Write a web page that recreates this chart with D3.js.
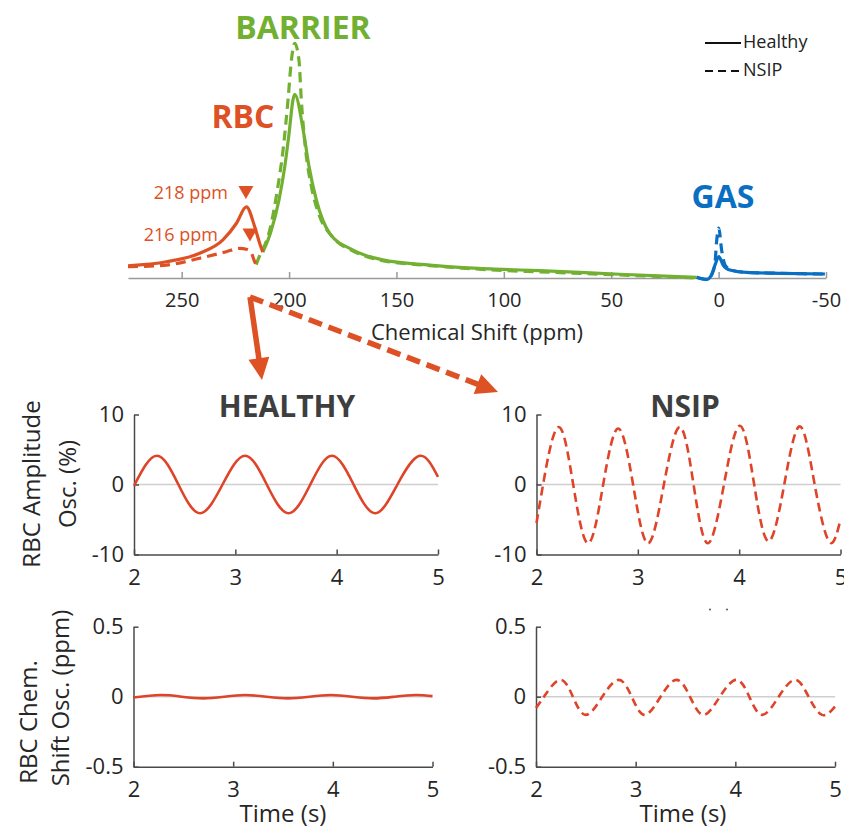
<!DOCTYPE html>
<html>
<head>
<meta charset="UTF-8">
<title>RBC oscillations</title>
<script src="https://d3js.org/d3.v7.min.js"></script>
<style>
  body { margin: 0; background: #fff; }
  text { font-family: "Open Sans", sans-serif; }
</style>
</head>
<body>
<svg id="fig" width="844" height="836"></svg>
<script>
// ---- spectrum (ppm, signal a.u.) ----
var rbcHealthyPpm = [275, 257.1, 241.6, 230.8, 224.5, 219.9, 216.0, 213.7, 212.2];
var rbcHealthy    = [5.2, 6.9, 10.5, 16.2, 23.3, 30.3, 21.8, 14.8, 11.0];
var rbcNsipPpm = [275, 257.1, 241.6, 229.2, 223.0, 219.9, 217.5, 216.0, 215.3];
var rbcNsip    = [4.8, 5.5, 8.4, 11.2, 12.6, 12.2, 10.5, 6.9, 5.7];

var barrierHealthyPpm = [212.2, 208.7, 204.7, 202.0, 200.0, 198.2, 197.4, 193.2, 190.7, 187.3, 181.1, 170.2, 156.4, 134.5, 119.2, 100.5, 83.3, 46.1, 10.2];
var barrierHealthy    = [11.0, 19.0, 33.2, 47.4, 61.6, 75.7, 78.2, 61.7, 47.4, 33.2, 19.0, 11.9, 7.7, 5.5, 4.4, 3.7, 3.1, 1.6, 0.3];
var barrierNsipPpm = [215.3, 214.5, 209.0, 205.2, 202.8, 200.5, 198.9, 197.4, 195.4, 194.3, 192.3, 189.6, 185.7, 180.2, 170.2, 156.4, 134.5, 100.5, 83.3, 46.1, 10.2];
var barrierNsip    = [5.7, 7.7, 20.4, 38.9, 54.5, 75.7, 92.8, 99.9, 92.8, 75.7, 54.5, 38.9, 26.1, 17.9, 11.5, 7.4, 5.3, 3.2, 2.6, 1.3, 0.0];

var gasHealthyPpm = [10.2, 5.6, 3.3, 1.7, -0.1, -2.1, -5.2, -13, -28.5, -49.5];
var gasHealthy    = [0.3, -0.6, 1.3, 5.5, 9.1, 5.5, 3.4, 2.4, 2.0, 1.7];
var gasNsipPpm = [10.2, 5.6, 3.3, 1.7, 1.0, -0.1, -1.4, -3.3, -7.5, -13, -28.5, -49.5];
var gasNsip    = [0.3, -0.6, 1.3, 6.0, 14.9, 21.2, 11.9, 5.1, 3.0, 2.4, 2.0, 1.7];

var ppmTicks = [250, 200, 150, 100, 50, 0, -50];

// ---- oscillations vs time (s) ----
var healthyAmpT = [2.0, 2.224, 2.438, 2.652, 2.874, 3.096, 3.31, 3.525, 3.74, 3.953, 4.167, 4.381, 4.60, 4.819, 5.0];
var healthyAmp  = [-0.2, 4.1, 0, -4.1, 0, 4.1, 0, -4.1, 0, 4.1, 0, -4.1, 0, 4.1, 1.1];
var nsipAmpT = [2.0, 2.065, 2.214, 2.362, 2.51, 2.658, 2.806, 2.953, 3.10, 3.257, 3.414, 3.55, 3.69, 3.85, 4.007, 4.148, 4.29, 4.445, 4.599, 4.745, 4.89, 5.0];
var nsipAmp  = [-5.5, 0, 8.2, 0, -8.4, 0, 8.0, 0, -8.4, 0, 8.2, 0, -8.4, 0, 8.4, 0, -8.1, 0, 8.3, 0, -8.2, -5.0];

var healthyShiftT = [2.0, 2.27, 2.485, 2.70, 2.91, 3.12, 3.335, 3.55, 3.765, 3.98, 4.195, 4.41, 4.62, 4.83, 5.0];
var healthyShift  = [-0.006, 0.012, 0, -0.012, 0, 0.012, 0, -0.012, 0, 0.012, 0, -0.012, 0, 0.012, 0.004];
var nsipShiftT = [2.0, 2.08, 2.24, 2.37, 2.50, 2.665, 2.83, 2.96, 3.09, 3.25, 3.41, 3.545, 3.68, 3.845, 4.01, 4.14, 4.27, 4.435, 4.60, 4.735, 4.87, 5.0];
var nsipShift  = [-0.08, 0, 0.12, 0, -0.13, 0, 0.12, 0, -0.13, 0, 0.12, 0, -0.13, 0, 0.12, 0, -0.13, 0, 0.12, 0, -0.13, -0.07];

var timeTicks = [2, 3, 4, 5];
var ampTicks = [-10, 0, 10];
var shiftTicks = [-0.5, 0, 0.5];

var orange = "#de5124", green = "#72b032", blue = "#0a6fc2", red = "#df4429";
var svg = d3.select("#fig");
svg.append("rect").attr("width", 844).attr("height", 836).attr("fill", "#fff");

function zip(a, b) { return a.map(function (v, i) { return [v, b[i]]; }); }
function plain(d) { return String(d); }

// ================= spectrum =================
var xs = d3.scaleLinear().domain([275, -50]).range([128, 826]);
var ys = d3.scaleLinear().domain([0, 100]).range([278, 43]);
var specLine = d3.line().x(function (d) { return xs(d[0]); }).y(function (d) { return ys(d[1]); })
    .curve(d3.curveMonotoneX);

var ax = svg.append("g").attr("transform", "translate(0,278)")
    .call(d3.axisBottom(xs).tickValues(ppmTicks).tickFormat(plain)
        .tickSize(-6).tickSizeOuter(0).tickPadding(15));
ax.select(".domain").attr("stroke", "#9a9a9a").attr("stroke-width", 1.5);
ax.selectAll(".tick line").attr("stroke", "#9a9a9a").attr("stroke-width", 1.5);
ax.selectAll(".tick text").attr("fill", "#262626").attr("font-size", 20).attr("font-family", "Open Sans");

svg.append("text").attr("x", 477).attr("y", 340).attr("text-anchor", "middle")
    .attr("font-size", 22).attr("fill", "#262626").text("Chemical Shift (ppm)");

var specSeries = [
    [barrierNsipPpm, barrierNsip, green, true],
    [rbcNsipPpm, rbcNsip, orange, true],
    [gasNsipPpm, gasNsip, blue, true],
    [barrierHealthyPpm, barrierHealthy, green, false],
    [rbcHealthyPpm, rbcHealthy, orange, false],
    [gasHealthyPpm, gasHealthy, blue, false]
];
specSeries.forEach(function (s) {
    svg.append("path").datum(zip(s[0], s[1]))
        .attr("d", specLine).attr("fill", "none").attr("stroke", s[2])
        .attr("stroke-width", 3.2).attr("stroke-dasharray", s[3] ? "10,6" : null);
});

// peak labels
function bigLabel(txt, x, y, c) {
    svg.append("text").attr("x", x).attr("y", y).attr("text-anchor", "middle")
        .attr("font-size", 32).attr("font-weight", "bold").attr("fill", c).text(txt);
}
bigLabel("BARRIER", 303, 39, green);
bigLabel("RBC", 243, 128, orange);
bigLabel("GAS", 723, 208, blue);

// rbc frequency markers
var markPpm = [220.1, 218.2];
var markText = ["218 ppm", "216 ppm"];
var markTop = [186, 228.5];
var markRight = [228, 218];
markPpm.forEach(function (p, i) {
    var cx = xs(p), t = markTop[i];
    svg.append("path").attr("d", "M" + (cx - 7.5) + "," + t + "L" + (cx + 7.5) + "," + t + "L" + cx + "," + (t + 13) + "Z")
        .attr("fill", orange);
    svg.append("text").attr("x", markRight[i]).attr("y", t + 12.5).attr("text-anchor", "end")
        .attr("font-size", 18).attr("fill", orange).text(markText[i]);
});

// legend
var leg = svg.append("g");
[["Healthy", null, 43, 48], ["NSIP", "8,5", 71, 76]].forEach(function (l) {
    leg.append("line").attr("x1", 705).attr("x2", 741).attr("y1", l[2]).attr("y2", l[2])
        .attr("stroke", "#111").attr("stroke-width", 2).attr("stroke-dasharray", l[1]);
    leg.append("text").attr("x", 743).attr("y", l[3]).attr("font-size", 18).attr("fill", "#222").text(l[0]);
});

// arrows from the RBC peak to the panels
function arrow(x0, y0, x1, y1, dash) {
    var dx = x1 - x0, dy = y1 - y0, len = Math.sqrt(dx * dx + dy * dy);
    var ux = dx / len, uy = dy / len, hl = 22, hw = 10.5;
    var bx = x1 - ux * hl, by = y1 - uy * hl;
    svg.append("line").attr("x1", x0).attr("y1", y0).attr("x2", bx + ux * 2).attr("y2", by + uy * 2)
        .attr("stroke", orange).attr("stroke-width", 5.5).attr("stroke-dasharray", dash);
    svg.append("path").attr("d", "M" + x1 + "," + y1 + "L" + (bx - uy * hw) + "," + (by + ux * hw) +
        "L" + (bx + uy * hw) + "," + (by - ux * hw) + "Z").attr("fill", orange);
}
arrow(250, 297, 262, 380, null);
arrow(250, 297, 498, 392, "14,7");

// ================= oscillation panels =================
function panel(x0, y0, w, h, yDom, yTicks, t, v, dash) {
    var x = d3.scaleLinear().domain([2, 5]).range([x0, x0 + w]);
    var y = d3.scaleLinear().domain(yDom).range([y0 + h, y0]);
    var g = svg.append("g");
    g.append("line").attr("x1", x0).attr("x2", x0 + w).attr("y1", y(0)).attr("y2", y(0))
        .attr("stroke", "#cfcfcf").attr("stroke-width", 1.5);
    var gx = g.append("g").attr("transform", "translate(0," + (y0 + h) + ")")
        .call(d3.axisBottom(x).tickValues(timeTicks).tickFormat(plain)
            .tickSize(-5).tickSizeOuter(0).tickPadding(15));
    var gy = g.append("g").attr("transform", "translate(" + x0 + ",0)")
        .call(d3.axisLeft(y).tickValues(yTicks).tickFormat(plain)
            .tickSize(-5).tickSizeOuter(0).tickPadding(10));
    [gx, gy].forEach(function (a) {
        a.select(".domain").attr("stroke", "#4a4a4a").attr("stroke-width", 1.5);
        a.selectAll(".tick line").attr("stroke", "#4a4a4a").attr("stroke-width", 1.5);
        a.selectAll(".tick text").attr("fill", "#262626").attr("font-size", 22).attr("font-family", "Open Sans");
    });
    var line = d3.line().x(function (d) { return x(d[0]); }).y(function (d) { return y(d[1]); })
        .curve(d3.curveNatural);
    g.append("path").datum(zip(t, v)).attr("d", line).attr("fill", "none")
        .attr("stroke", red).attr("stroke-width", 2.6).attr("stroke-dasharray", dash);
}
panel(134, 414.5, 304, 140, [-10, 10], ampTicks, healthyAmpT, healthyAmp, null);
panel(536.5, 414.5, 304, 140, [-10, 10], ampTicks, nsipAmpT, nsipAmp, "9,5");
panel(133.5, 626.7, 299, 140, [-0.5, 0.5], shiftTicks, healthyShiftT, healthyShift, null);
panel(536, 626.7, 299, 140, [-0.5, 0.5], shiftTicks, nsipShiftT, nsipShift, "8,5");

// titles
[["HEALTHY", 287], ["NSIP", 685]].forEach(function (d) {
    svg.append("text").attr("x", d[1]).attr("y", 416.5).attr("text-anchor", "middle")
        .attr("font-size", 30).attr("font-weight", "bold").attr("fill", "#3e3e3e").text(d[0]);
});

// y labels
function vText(txt, x, y) {
    svg.append("text").attr("transform", "translate(" + x + "," + y + ") rotate(-90)")
        .attr("text-anchor", "middle").attr("font-size", 24).attr("fill", "#262626").text(txt);
}
vText("RBC Amplitude", 40, 484);
vText("Osc. (%)", 76, 484);
vText("RBC Chem.", 37, 722);
vText("Shift Osc. (ppm)", 69, 698);

// x labels
[283, 683].forEach(function (cx) {
    svg.append("text").attr("x", cx).attr("y", 822).attr("text-anchor", "middle")
        .attr("font-size", 24).attr("fill", "#262626").text("Time (s)");
});

// stray marks above the lower right panel
[710, 727].forEach(function (cx) {
    svg.append("circle").attr("cx", cx).attr("cy", 609.5).attr("r", 1.1).attr("fill", "#666");
});
</script>
</body>
</html>
